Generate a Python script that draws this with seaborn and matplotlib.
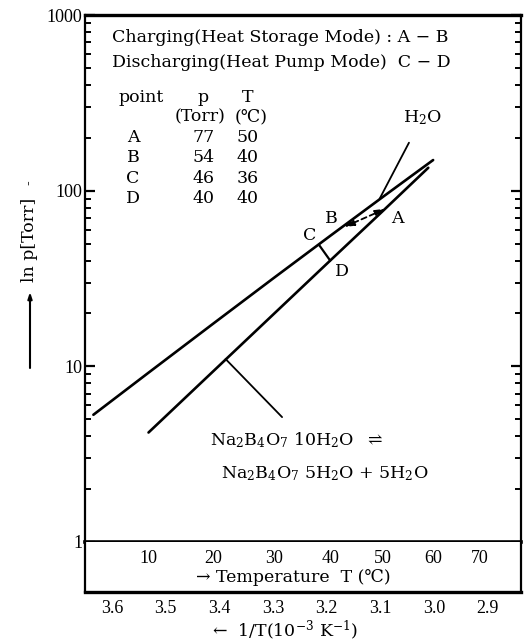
import numpy as np
import pandas as pd
import matplotlib
matplotlib.use("Agg")
import matplotlib.pyplot as plt
import seaborn as sns
from matplotlib.ticker import FixedLocator, NullFormatter, LogLocator

# ---------------- data ----------------
h2o_T = [2, 10, 20, 30, 40, 50, 60]                      # deg C
h2o_p = [5.3, 9.2, 17.5, 31.8, 55.3, 92.5, 149.4]        # Torr
salt_T = [10, 40, 50, 59]                                # deg C
salt_p = [4.2, 40, 77, 135]                              # Torr

table_points = ["A", "B", "C", "D"]
table_p = [77, 54, 46, 40]
table_T = [50, 40, 36, 40]

ab_T = [50.5, 42.5]      # dashed A <-> B arrow, as drawn
ab_p = [79, 62]
cd_T = [38, 40]          # C - D segment, as drawn
cd_p = [49, 40]

h2o_lead_T, h2o_lead_p = 49.3, 90      # where H2O leader touches curve
salt_lead_T, salt_lead_p = 22, 11      # where salt leader touches line

temp_ticks = [10, 20, 30, 40, 50, 60, 70]
inv_ticks = [3.6, 3.5, 3.4, 3.3, 3.2, 3.1, 3.0, 2.9]
inv_labels = ["3.6", "3.5", "3.4", "3.3", "3.2", "3.1", "3.0", "2.9"]
y_ticks = [1, 10, 100, 1000]
y_labels = ["1", "10", "100", "1000"]


def inv(T):
    return 1000.0 / (np.asarray(T, dtype=float) + 273.15)


sns.set_theme(style="ticks")
TXT = ["DejaVu Serif", "DejaVu Sans"]
NUM = ["Liberation Serif", "DejaVu Serif"]
plt.rcParams["font.family"] = TXT
plt.rcParams["mathtext.fontset"] = "dejavuserif"
for k in ["text.color", "axes.labelcolor", "xtick.color", "ytick.color",
          "axes.edgecolor"]:
    plt.rcParams[k] = "black"

fig = plt.figure(figsize=(5.26, 6.43), dpi=100)
fig.patch.set_facecolor("white")

L, W = 85 / 526, 436 / 526
ax = fig.add_axes([L, 101 / 643, W, 527 / 643])
axb = fig.add_axes([L, 51 / 643, W, 50 / 643])

df_h2o = pd.DataFrame({"x": inv(h2o_T), "p": h2o_p})
df_salt = pd.DataFrame({"x": inv(salt_T), "p": salt_p})
sns.lineplot(data=df_h2o, x="x", y="p", ax=ax, color="black", lw=1.9,
             sort=False, estimator=None)
sns.lineplot(data=df_salt, x="x", y="p", ax=ax, color="black", lw=1.9,
             sort=False, estimator=None)
sns.lineplot(x=inv(cd_T), y=cd_p, ax=ax, color="black", lw=1.6,
             sort=False, estimator=None)

ax.set_yscale("log")
ax.set_xlim(3.650, 2.838)
ax.set_ylim(1, 1000)
ax.set_xlabel("")
ax.set_ylabel("")
ax.set_xticks([])
ax.yaxis.set_major_locator(FixedLocator(y_ticks))
ax.set_yticklabels(y_labels, fontfamily=NUM)
ax.yaxis.set_minor_locator(LogLocator(base=10, subs=np.arange(2, 10)))
ax.yaxis.set_minor_formatter(NullFormatter())
ax.tick_params(axis="y", which="major", direction="in", length=7, width=1.6,
               left=True, right=True, labelsize=13, pad=2, colors="black")
ax.tick_params(axis="y", which="minor", direction="in", length=4, width=1.4,
               left=True, right=True, colors="black")
for s in ax.spines.values():
    s.set_linewidth(1.6)
    s.set_color("black")
ax.spines["top"].set_linewidth(2.4)
ax.spines["bottom"].set_linewidth(2.6)

# A <-> B dashed arrow
ax.annotate("", xy=(inv(ab_T[1]), ab_p[1]), xytext=(inv(ab_T[0]), ab_p[0]),
            arrowprops=dict(arrowstyle="<|-|>,head_length=0.5,head_width=0.15",
                            linestyle=(0, (3, 2)), lw=1.3, color="black",
                            shrinkA=0, shrinkB=0))

fs = 12.5
# leaders
ax.annotate("H$_2$O", xy=(inv(h2o_lead_T), h2o_lead_p), xytext=(0.773, 0.805),
            textcoords="axes fraction", ha="center", va="center", fontsize=fs,
            arrowprops=dict(arrowstyle="-", lw=1.3, color="black",
                            shrinkA=10, shrinkB=0))
ax.annotate("", xy=(inv(salt_lead_T), salt_lead_p), xytext=(0.452, 0.237),
            textcoords="axes fraction",
            arrowprops=dict(arrowstyle="-", lw=1.3, color="black",
                            shrinkA=0, shrinkB=0))

for lab, xy in [("C", (0.516, 0.581)), ("B", (0.564, 0.613)),
                ("A", (0.716, 0.613)), ("D", (0.589, 0.514))]:
    ax.text(*xy, lab, transform=ax.transAxes, ha="center", va="center",
            fontsize=fs)

ax.text(0.062, 0.958, "Charging(Heat Storage Mode) : A \u2212 B",
        transform=ax.transAxes, ha="left", va="center", fontsize=fs)
ax.text(0.062, 0.909, "Discharging(Heat Pump Mode)  C \u2212 D",
        transform=ax.transAxes, ha="left", va="center", fontsize=fs)

xc_pt, xc_p, xc_T = 0.110, 0.271, 0.372
ax.text(0.076, 0.843, "point", transform=ax.transAxes, ha="left",
        va="center", fontsize=fs)
ax.text(xc_p, 0.843, "p", transform=ax.transAxes, ha="center", va="center",
        fontsize=fs)
ax.text(xc_T, 0.843, "T", transform=ax.transAxes, ha="center", va="center",
        fontsize=fs)
ax.text(xc_p - 0.008, 0.806, "(Torr)", transform=ax.transAxes, ha="center",
        va="center", fontsize=fs)
ax.text(xc_T + 0.008, 0.806, "(\u2103)", transform=ax.transAxes, ha="center",
        va="center", fontsize=fs)
for i, (pt, pv, tv) in enumerate(zip(table_points, table_p, table_T)):
    y = 0.768 - i * 0.039
    ax.text(xc_pt, y, pt, transform=ax.transAxes, ha="center", va="center",
            fontsize=fs)
    ax.text(xc_p, y, str(pv), transform=ax.transAxes, ha="center",
            va="center", fontsize=fs)
    ax.text(xc_T, y, str(tv), transform=ax.transAxes, ha="center",
            va="center", fontsize=fs)

ax.text(0.485, 0.194,
        r"Na$_2$B$_4$O$_7$ 10H$_2$O  $\rightleftharpoons$",
        transform=ax.transAxes, ha="center", va="center", fontsize=fs)
ax.text(0.550, 0.129, r"Na$_2$B$_4$O$_7$ 5H$_2$O + 5H$_2$O",
        transform=ax.transAxes, ha="center", va="center", fontsize=fs)

# ---------------- temperature band ----------------
axb.set_xlim(ax.get_xlim())
axb.set_ylim(0, 1)
axb.set_yticks([])
axb.set_xticks(inv_ticks)
axb.set_xticklabels(inv_labels, fontfamily=NUM)
axb.tick_params(axis="x", which="both", length=0, labelsize=13, pad=6,
                colors="black")
for s in axb.spines.values():
    s.set_linewidth(1.6)
    s.set_color("black")
axb.spines["bottom"].set_linewidth(2.4)
axb.spines["top"].set_visible(False)

sec = axb.secondary_xaxis("top")
sec.set_xticks(inv(temp_ticks), [str(t) for t in temp_ticks],
               fontfamily=NUM)
sec.tick_params(axis="x", length=0, labelsize=13, pad=-18, colors="black")
sec.spines["top"].set_visible(False)

axb.text(0.477, 0.30, "\u2192 Temperature  T (\u2103)",
         transform=axb.transAxes, ha="center", va="center", fontsize=fs)

fig.text(0.542, 0.020, "\u2190  1/T(10$^{-3}$ K$^{-1}$)", ha="center",
         va="center", fontsize=fs)

# y label with upward arrow
fig.text(30 / 526, 1 - 240 / 643, "ln p[Torr]", rotation=90, ha="center",
         va="center", fontsize=12.5)
fig.text(30 / 526, 1 - 183 / 643, "-", rotation=90, ha="center",
         va="center", fontsize=10)
ax.annotate("", xy=(30, 643 - 292), xytext=(30, 643 - 368),
            xycoords="figure pixels", textcoords="figure pixels",
            arrowprops=dict(arrowstyle="-|>,head_length=0.3,head_width=0.1",
                            lw=1.5, color="black", shrinkA=0, shrinkB=0))

fig.savefig("out.png", dpi=100, facecolor="white")
